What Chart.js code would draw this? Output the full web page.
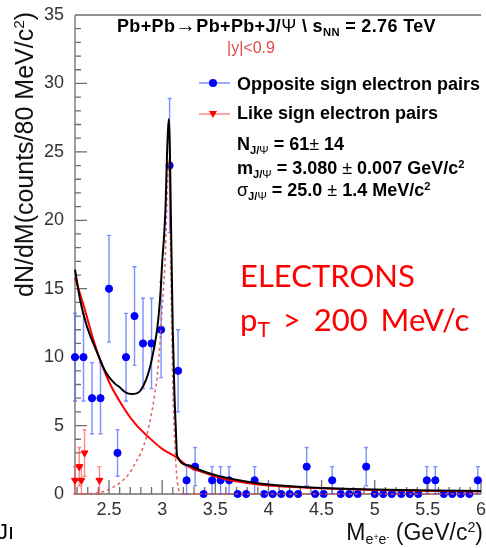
<!DOCTYPE html>
<html>
<head>
<meta charset="utf-8">
<title>J/psi in Pb+Pb UPC</title>
<script src="https://cdn.jsdelivr.net/npm/chart.js@4.4.0/dist/chart.umd.min.js"></script>
<style>
  body { margin: 0; background: #fff; }
  #wrap { position: relative; width: 486px; height: 548px; overflow: hidden; background: #fff; }
  #wrap canvas { position: absolute; left: 0; top: 0; }
  .txt { position: absolute; white-space: nowrap; font-family: "Liberation Sans", Arial, sans-serif; line-height: 1; color: #000; }
  .b { font-weight: bold; font-size: 18px; }
  .sub { font-size: 0.62em; position: relative; top: 0.35em; }
  .sup { font-size: 0.62em; position: relative; top: -0.55em; }
  .thin { font-weight: normal; }
  .big { color: #ff0000; font-family: Lato, "Open Sans", sans-serif; font-size: 31px; }
</style>
</head>
<body>
<div id="wrap">
  <canvas id="jpsi-chart" width="486" height="548"></canvas>

  <div class="txt b" style="left:117px;top:15px;letter-spacing:0.35px">Pb+Pb<span style="font-size:1.15em">→</span>Pb+Pb+J/<span class="thin">Ψ</span> \ s<span class="sub">NN</span> = 2.76 TeV</div>
  <div class="txt" style="left:227px;top:39.5px;font-size:16px;color:#e04848">|y|&lt;0.9</div>

  <div class="txt b" style="left:237px;top:75px">Opposite sign electron pairs</div>
  <div class="txt b" style="left:237px;top:104px">Like sign electron pairs</div>
  <div class="txt b" style="left:237px;top:135px">N<span class="sub">J/<span class="thin">Ψ</span></span> = 61<span class="thin">±</span> 14</div>
  <div class="txt b" style="left:237px;top:159px">m<span class="sub">J/<span class="thin">Ψ</span></span> = 3.080<span class="thin"> ± </span>0.007 GeV/c<span class="sup">2</span></div>
  <div class="txt b" style="left:237px;top:181px"><span class="thin">σ</span><span class="sub">J/<span class="thin">Ψ</span></span> = 25.0<span class="thin"> ± </span>1.4 MeV/c<span class="sup">2</span></div>

  <div class="txt big" style="left:240px;top:259.5px">ELECTRONS</div>
  <div class="txt big" style="left:240px;top:303.5px;word-spacing:5px">p<span class="sub" style="font-size:0.68em;top:0.3em">T</span> &gt; 200 MeV/c</div>

  <div class="txt" style="left:12px;top:297px;font-size:25px;color:#111;transform-origin:0 0;transform:rotate(-90deg)">dN/dM(counts/80 MeV/c<span class="sup">2</span>)</div>
  <div class="txt" style="right:3px;top:520.5px;font-size:23px;color:#111">M<span class="sub">e<span class="sup">+</span>e<span class="sup">-</span></span> (GeV/c<span class="sup">2</span>)</div>

  <div class="txt" style="left:-3px;top:521px;font-size:22px">Jı</div>
</div>

<script>
// opposite sign e+e- pairs, 80 MeV bins
const massBins = [2.18, 2.26, 2.34, 2.42, 2.50, 2.58, 2.66, 2.74, 2.82, 2.90, 2.99, 3.07, 3.15, 3.23, 3.31, 3.39,
  3.47, 3.55, 3.63, 3.71, 3.79, 3.87, 3.96, 4.04, 4.12, 4.20, 4.28, 4.36, 4.44, 4.52, 4.60, 4.68,
  4.76, 4.84, 4.92, 5.00, 5.08, 5.16, 5.25, 5.33, 5.41, 5.49, 5.57, 5.65, 5.73, 5.81, 5.89, 5.97];
const oppositeCounts = [10, 10, 7, 7, 15, 3, 10, 13, 11, 11, 12, 24, 9, 1, 2, 0,
  1, 1, 1, 0, 0, 1, 0, 0, 0, 0, 0, 2, 0, 0, 1, 0,
  0, 0, 2, 0, 0, 0, 0, 0, 0, 1, 1, 0, 0, 0, 0, 1];
const oppositeErrors = [3.2, 3.2, 2.6, 2.6, 3.9, 1.7, 3.2, 3.6, 3.3, 3.3, 3.5, 4.9, 3.0, 1.0, 1.4, 0,
  1.0, 1.0, 1.0, 0, 0, 1.0, 0, 0, 0, 0, 0, 1.4, 0, 0, 1.0, 0,
  0, 0, 1.4, 0, 0, 0, 0, 0, 0, 1.0, 1.0, 0, 0, 0, 0, 1.0];

// like sign pairs
const likeMass = [2.18, 2.22, 2.24, 2.27, 2.41];
const likeCounts = [1, 2, 1, 3, 1];
const likeErrors = [1.0, 1.4, 1.0, 1.7, 1.0];

// total fit (black)
const fitMass = [2.18, 2.23, 2.29, 2.38, 2.47, 2.55, 2.60, 2.66, 2.71, 2.76, 2.80, 2.846, 2.88, 2.907, 2.93,
  2.954, 2.97, 2.986, 3.00, 3.016, 3.032, 3.045, 3.055, 3.063, 3.072, 3.08, 3.09, 3.10, 3.115, 3.13,
  3.14, 3.25, 3.31, 3.45, 3.59, 3.80, 4.00, 4.40, 5.00, 5.50, 6.00];
const fitTotal = [16.4, 14.1, 12.3, 10.5, 8.9, 8.1, 7.8, 7.4, 7.3, 7.35, 7.6, 8.3, 9.1, 10.0, 10.9,
  12.1, 13.3, 14.9, 16.9, 18.6, 21.0, 24.6, 26.6, 27.4, 25.5, 21.5, 16.5, 12.0, 7.5, 4.5,
  2.8, 2.1, 1.9, 1.5, 1.2, 0.9, 0.7, 0.48, 0.32, 0.25, 0.22];

// background (red solid)
const bgMass = [2.18, 2.26, 2.38, 2.50, 2.63, 2.75, 2.88, 3.00, 3.14, 3.25, 3.40, 3.59, 3.80, 4.00, 4.50, 5.00, 5.50, 6.00];
const bgValues = [15.8, 13.8, 10.6, 8.2, 6.4, 5.1, 4.1, 3.3, 2.65, 2.0, 1.55, 1.1, 0.8, 0.62, 0.42, 0.3, 0.23, 0.18];

// J/psi signal (red dashed)
const sigMass = [2.26, 2.41, 2.50, 2.60, 2.70, 2.75, 2.80, 2.846, 2.88, 2.907, 2.93, 2.954, 2.97, 2.986,
  3.00, 3.016, 3.032, 3.045, 3.055, 3.065, 3.072, 3.079, 3.10, 3.125, 3.156, 3.20, 6.00];
const sigValues = [0, 0.1, 0.35, 0.8, 1.6, 2.3, 3.0, 4.0, 5.1, 6.2, 7.3, 8.6, 10.0, 11.8,
  13.6, 15.4, 17.9, 21.5, 23.5, 24.5, 22.0, 17.9, 8.1, 2.8, 0.3, 0, 0];

const xMajorTicks = [2.5, 3, 3.5, 4, 4.5, 5, 5.5, 6];
const yMajorTicks = [0, 5, 10, 15, 20, 25, 30, 35];

const toPoints = (xs, ys) => xs.map((x, i) => ({ x: x, y: ys[i] }));
const isMajor = (v, list) => list.some(m => Math.abs(m - v) < 1e-6);

// ROOT style frame + inward ticks
const rootAxes = {
  id: "rootAxes",
  beforeDatasetsDraw(chart) {
    const { ctx, chartArea: a, scales: { x, y } } = chart;
    ctx.save();
    ctx.strokeStyle = "#6e6e6e";
    ctx.lineWidth = 1.3;
    ctx.beginPath();
    ctx.moveTo(a.left, a.top);
    ctx.lineTo(a.right, a.top);
    ctx.moveTo(a.left, a.top);
    ctx.lineTo(a.left, a.bottom);
    ctx.lineTo(a.right, a.bottom);
    x.ticks.forEach(t => {
      const px = x.getPixelForValue(t.value);
      const len = isMajor(t.value, xMajorTicks) ? 14 : 7;
      ctx.moveTo(px, a.bottom);
      ctx.lineTo(px, a.bottom - len);
    });
    y.ticks.forEach(t => {
      const py = y.getPixelForValue(t.value);
      const len = isMajor(t.value, yMajorTicks) ? 12 : 6;
      ctx.moveTo(a.left, py);
      ctx.lineTo(a.left + len, py);
    });
    ctx.stroke();
    ctx.restore();
  }
};

// vertical error bars with small caps
const errorBars = {
  id: "errorBars",
  beforeDatasetsDraw(chart) {
    const { ctx, scales: { x, y } } = chart;
    chart.data.datasets.forEach(ds => {
      if (!ds.yErr) return;
      ctx.save();
      ctx.strokeStyle = ds.errColor;
      ctx.lineWidth = 1.4;
      ds.data.forEach((p, k) => {
        const e = ds.yErr[k];
        if (!e) return;
        const px = x.getPixelForValue(p.x);
        const top = y.getPixelForValue(p.y + e);
        const bot = y.getPixelForValue(Math.max(0, p.y - e));
        ctx.beginPath();
        ctx.moveTo(px, top);
        ctx.lineTo(px, bot);
        ctx.moveTo(px - 2, top);
        ctx.lineTo(px + 2, top);
        ctx.moveTo(px - 2, bot);
        ctx.lineTo(px + 2, bot);
        ctx.stroke();
      });
      ctx.restore();
    });
  }
};

// legend symbols next to the html legend text
const legendMarks = {
  id: "legendMarks",
  afterDraw(chart) {
    const c = chart.ctx;
    [{ y: 83, ds: 3 }, { y: 114, ds: 4 }].forEach(row => {
      const ds = chart.data.datasets[row.ds];
      c.save();
      c.strokeStyle = ds.errColor;
      c.lineWidth = 1.5;
      c.beginPath();
      c.moveTo(199, row.y);
      c.lineTo(230, row.y);
      c.stroke();
      c.fillStyle = ds.backgroundColor;
      c.beginPath();
      if (ds.pointStyle === "triangle") {
        c.moveTo(213 - 4, row.y - 3);
        c.lineTo(213 + 4, row.y - 3);
        c.lineTo(213, row.y + 4);
        c.closePath();
      } else {
        c.arc(213, row.y, 4, 0, Math.PI * 2);
      }
      c.fill();
      c.restore();
    });
  }
};

const ctx = document.getElementById("jpsi-chart");

new Chart(ctx, {
  type: "scatter",
  data: {
    datasets: [
      {
        label: "Fit",
        data: toPoints(fitMass, fitTotal),
        showLine: true,
        borderColor: "#000000",
        borderWidth: 2,
        pointRadius: 0,
        cubicInterpolationMode: "monotone",
      },
      {
        label: "Background",
        data: toPoints(bgMass, bgValues),
        showLine: true,
        borderColor: "#ff0000",
        borderWidth: 2,
        pointRadius: 0,
        cubicInterpolationMode: "monotone",
      },
      {
        label: "Signal",
        data: toPoints(sigMass, sigValues),
        showLine: true,
        borderColor: "rgba(225, 80, 80, 0.9)",
        borderWidth: 1.5,
        borderDash: [3, 3],
        pointRadius: 0,
        cubicInterpolationMode: "monotone",
      },
      {
        label: "Opposite sign electron pairs",
        data: toPoints(massBins, oppositeCounts),
        backgroundColor: "#0000ff",
        borderColor: "#0000ff",
        borderWidth: 1,
        pointRadius: 3.6,
        yErr: oppositeErrors,
        errColor: "rgba(70, 95, 255, 0.7)",
      },
      {
        label: "Like sign electron pairs",
        data: toPoints(likeMass, likeCounts),
        pointStyle: "triangle",
        rotation: 180,
        backgroundColor: "#ff0000",
        borderColor: "#ff0000",
        borderWidth: 1,
        pointRadius: 4,
        yErr: likeErrors,
        errColor: "rgba(255, 70, 70, 0.65)",
      },
    ],
  },
  options: {
    responsive: false,
    animation: false,
    devicePixelRatio: 1,
    clip: false,
    layout: { padding: { top: 15, left: 0, right: 0, bottom: 0 } },
    plugins: { legend: { display: false }, tooltip: { enabled: false } },
    scales: {
      x: {
        type: "linear",
        min: 2.18,
        max: 6.0,
        grid: { display: false },
        border: { display: false },
        ticks: {
          stepSize: 0.1,
          includeBounds: false,
          autoSkip: false,
          maxRotation: 0,
          padding: -3,
          color: "#333",
          font: { family: "Liberation Sans", size: 18 },
          callback: v => (isMajor(v, xMajorTicks) ? String(Math.round(v * 10) / 10) : ""),
        },
        afterFit(scale) {
          scale.height = 54;
          scale.paddingLeft = 0;
          scale.paddingRight = 0;
        },
      },
      y: {
        min: 0,
        max: 35,
        grid: { display: false },
        border: { display: false },
        ticks: {
          stepSize: 1,
          autoSkip: false,
          padding: 3,
          color: "#333",
          font: { family: "Liberation Sans", size: 18 },
          callback: v => (isMajor(v, yMajorTicks) ? String(Math.round(v)) : ""),
        },
        afterFit(scale) {
          scale.width = 75;
          scale.paddingTop = 0;
          scale.paddingBottom = 0;
        },
      },
    },
  },
  plugins: [rootAxes, errorBars, legendMarks],
});
</script>
</body>
</html>
